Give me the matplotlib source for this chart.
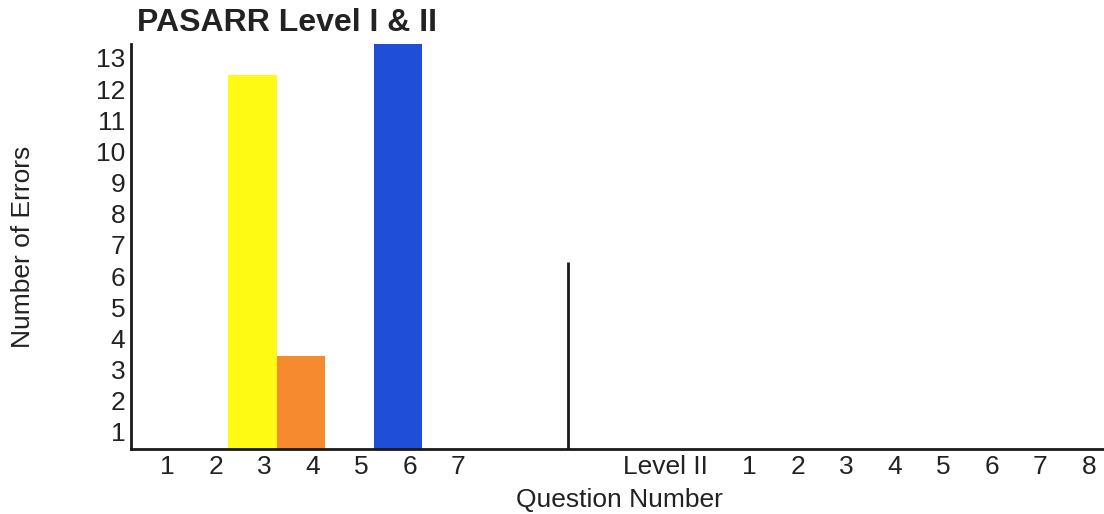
import matplotlib
matplotlib.use("Agg")
import matplotlib.pyplot as plt
import matplotlib.transforms as mtransforms

plt.rcParams['font.family'] = ['Liberation Sans', 'DejaVu Sans']

# Level I questions and their error counts
level1_questions = ["1", "2", "3", "4", "5", "6", "7"]
level1_errors = [0, 0, 12, 3, 0, 13, 0]
level1_colors = ["#FFFF14", "#FFFF14", "#FFFA14", "#F58A2E", "#1F4FD6", "#1F4FD6", "#1F4FD6"]

# Level II questions and their error counts
level2_questions = ["1", "2", "3", "4", "5", "6", "7", "8"]
level2_errors = [0, 0, 0, 0, 0, 0, 0, 0]

# Category slots along the x axis
slot_labels = level1_questions + ["", "", "", "Level II", ""] + level2_questions
divider_height = 6
y_ticks = list(range(1, 14))

fig = plt.figure(figsize=(11.04, 5.14), dpi=100)
ax = fig.add_axes([131 / 1104, 1 - 449 / 514, 1 - 131 / 1104, (449 - 44) / 514])

l1_pos = list(range(len(level1_questions)))
ax.bar(l1_pos, level1_errors, width=1.0, color=level1_colors, linewidth=0)
l2_start = len(slot_labels) - len(level2_questions)
l2_pos = [l2_start + i for i in range(len(level2_questions))]
ax.bar(l2_pos, level2_errors, width=1.0, color="#1F4FD6", linewidth=0)

# Divider between the two levels
ax.vlines(len(level1_questions) + 1.5, 0, divider_height, color="#1a1a1a", linewidth=2)

ax.set_xlim(-0.5, 19.56)
ax.set_ylim(0, 13)

tick_size = 19
ax.set_xticks(range(len(slot_labels)))
ax.set_xticklabels(slot_labels, fontsize=tick_size, color="#222222")
ax.set_yticks(y_ticks)
ax.set_yticklabels([str(v) for v in y_ticks], fontsize=tick_size, color="#222222")
ax.tick_params(axis="both", length=0)
ax.tick_params(axis="x", pad=4)
ax.tick_params(axis="y", pad=4)

for lab in ax.get_xticklabels():
    shift = 25 if lab.get_text() == "Level II" else 12
    dx = mtransforms.ScaledTranslation(shift / 100, 0, fig.dpi_scale_trans)
    lab.set_transform(lab.get_transform() + dx)
dy = mtransforms.ScaledTranslation(0, -14 / 100, fig.dpi_scale_trans)
for lab in ax.get_yticklabels():
    lab.set_transform(lab.get_transform() + dy)

for side in ("top", "right"):
    ax.spines[side].set_visible(False)
for side in ("left", "bottom"):
    ax.spines[side].set_linewidth(2)
    ax.spines[side].set_color("#1a1a1a")

fig.text(619 / 1104, 1 - 500 / 514, "Question Number", fontsize=19,
         ha="center", va="center", color="#222222")
fig.text(23 / 1104, 1 - 247 / 514, "Number of Errors", fontsize=19,
         ha="center", va="center", rotation=90, color="#222222")
fig.text(137 / 1104, 1 - 23 / 514, "PASARR Level I & II", fontsize=23,
         fontweight="bold", ha="left", va="center", color="#222222")

fig.savefig("out.png", dpi=100, facecolor="white")
